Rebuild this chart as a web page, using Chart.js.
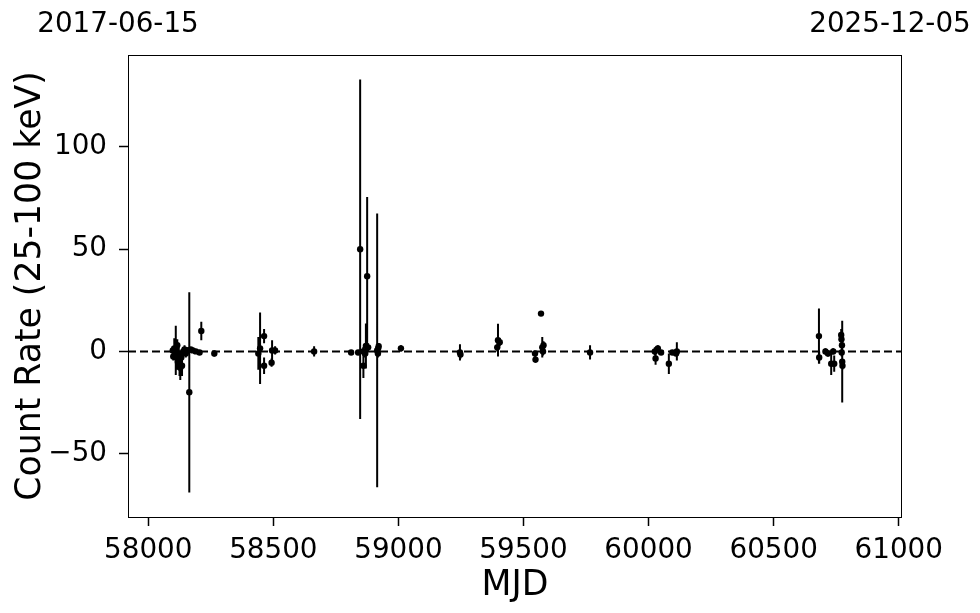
<!DOCTYPE html>
<html>
<head>
<meta charset="utf-8">
<script src="https://cdn.jsdelivr.net/npm/chart.js@4"></script>
<style>
  html, body { margin: 0; padding: 0; background: #fff; }
  #wrap { width: 980px; height: 613px; position: relative; }
</style>
</head>
<body>
<div id="wrap"><canvas id="chart"></canvas></div>
<script>
const mjd = [
  58098, 58100, 58104, 58110, 58113, 58116, 58118, 58122, 58125, 58128, 58132, 58135,
  58140, 58145, 58150, 58155, 58164, 58170, 58178, 58190, 58205, 58212, 58264,
  58440, 58447, 58463, 58463, 58493, 58495, 58507, 58663,
  58811, 58839, 58847, 58859, 58860, 58867, 58870, 58875, 58879, 58915, 58918, 58919, 58921, 59010,
  59246, 59248, 59395, 59398, 59405, 59546, 59548, 59570, 59575, 59578, 59580, 59766,
  60025, 60028, 60037, 60050, 60081, 60095, 60110, 60113,
  60681, 60682, 60707, 60717, 60730, 60742, 60738, 60770, 60771, 60773, 60772, 60774, 60775
];
const rate = [
  0.5, -2.5, 1.5, 0.5, -3, 3, -5, -1, -6, -8, -3, -7,
  0, 1, -1, 0.5, -20, 1, 0.5, 0, -0.5, 10, -1,
  -1, 1.5, 7.5, -7, -5.5, 0.5, 0.5, 0,
  -0.5, -0.5, 50, 0, -7, -1, 2.7, 36.8, 2, 0.5, -1, 1.5, 2.5, 1.5,
  -0.5, -1.5, 2, 5.5, 4.5, -1, -4, 18.5, 2, 0, 3, -0.5,
  0, -3.5, 1.5, -0.5, -6, -0.5, -1, 0,
  7.5, -3, 0, -1, -6, -6, 0, 8, 6, 3, -0.5, -5, -7
];
const rateErr = [
  2, 2, 5, 12, 3, 3, 4, 3, 6, 6, 3, 5,
  2, 2, 2, 1.5, 49, 1, 1, 1, 1, 4.5, 1.5,
  8, 17.5, 3.5, 4, 2, 5, 2, 2.5,
  1, 1, 83, 2, 6, 2, 11, 38.7, 2, 67, 2, 2, 1.5, 1.5,
  4, 2, 2, 8, 2, 1.5, 1.5, 0.5, 5, 2, 2, 3.5,
  2, 3, 1.5, 1, 5, 1, 1, 4.5,
  13.5, 3, 1.5, 1.5, 5.5, 4, 1.5, 3, 2, 2, 2, 20, 2
];
const xTicks = [58000, 58500, 59000, 59500, 60000, 60500, 61000];
const yTicks = [-50, 0, 50, 100];
const xRange = [57919, 61013];
const yRange = [-81, 145];
const dateLabels = ['2017-06-15', '2025-12-05'];

const FONT = "'DejaVu Sans', sans-serif";

const errorBars = {
  id: 'errorBars',
  beforeDatasetsDraw(chart) {
    const { ctx, chartArea: a, scales: { x, y } } = chart;
    ctx.save();
    ctx.beginPath();
    ctx.rect(a.left, a.top, a.right - a.left, a.bottom - a.top);
    ctx.clip();
    ctx.strokeStyle = '#000';
    ctx.lineWidth = 2;
    ctx.beginPath();
    mjd.forEach((m, i) => {
      const px = x.getPixelForValue(m);
      ctx.moveTo(px, y.getPixelForValue(rate[i] - rateErr[i]));
      ctx.lineTo(px, y.getPixelForValue(rate[i] + rateErr[i]));
    });
    ctx.stroke();
    ctx.restore();
  },
  afterDraw(chart) {
    const { ctx, chartArea: a } = chart;
    ctx.save();
    ctx.strokeStyle = '#000';
    ctx.lineWidth = 1;
    ctx.strokeRect(a.left + 0.5, a.top + 0.5, a.right - a.left - 1, a.bottom - a.top);
    ctx.fillStyle = '#000';
    ctx.font = '27.8px ' + FONT;
    ctx.textAlign = 'center';
    ctx.textBaseline = 'alphabetic';
    ctx.fillText(dateLabels[0], 118, 32);
    ctx.fillText(dateLabels[1], 890, 32);
    ctx.restore();
  }
};

const fmt = v => v < 0 ? '\u2212' + Math.abs(v) : String(v);

new Chart(document.getElementById('chart'), {
  type: 'scatter',
  data: {
    datasets: [
      {
        type: 'line',
        data: [{ x: xRange[0], y: 0 }, { x: xRange[1], y: 0 }],
        borderColor: '#000', borderWidth: 2, borderDash: [8, 4],
        pointRadius: 0, order: 2
      },
      {
        data: mjd.map((m, i) => ({ x: m, y: rate[i] })),
        backgroundColor: '#000', borderWidth: 0, pointRadius: 3.2, order: 1
      }
    ]
  },
  plugins: [errorBars],
  options: {
    responsive: true,
    maintainAspectRatio: false,
    animation: false,
    events: [],
    layout: { padding: { top: 55, right: 78, left: 0, bottom: 0 } },
    plugins: { legend: { display: false }, tooltip: { enabled: false } },
    scales: {
      x: {
        type: 'linear', min: xRange[0], max: xRange[1],
        afterBuildTicks: s => { s.ticks = xTicks.map(v => ({ value: v })); },
        afterFit: s => { s.height = 96; },
        border: { display: false },
        grid: { drawOnChartArea: false, drawTicks: true, tickLength: 9, tickWidth: 1.5, tickColor: '#000' },
        ticks: { color: '#000', font: { family: FONT, size: 27.8 }, padding: 8, maxRotation: 0, callback: v => fmt(v) },
        title: { display: true, text: 'MJD', color: '#000', font: { family: FONT, size: 34.7 }, padding: { top: 0, bottom: 6 } }
      },
      y: {
        type: 'linear', min: yRange[0], max: yRange[1],
        afterBuildTicks: s => { s.ticks = yTicks.map(v => ({ value: v })); },
        afterFit: s => { s.width = 128; },
        border: { display: false },
        grid: { drawOnChartArea: false, drawTicks: true, tickLength: 9, tickWidth: 1.5, tickColor: '#000' },
        ticks: { color: '#000', font: { family: FONT, size: 27.8 }, padding: 12, callback: v => fmt(v) },
        title: { display: true, text: 'Count Rate (25-100 keV)', color: '#000', font: { family: FONT, size: 34.7 }, padding: { top: 10, bottom: 0 } }
      }
    }
  }
});
</script>
</body>
</html>
